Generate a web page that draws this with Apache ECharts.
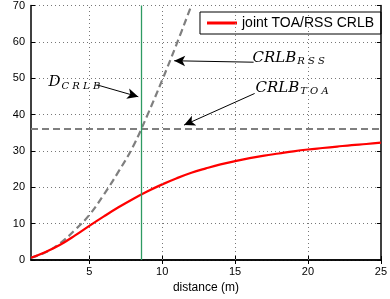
<!DOCTYPE html>
<html>
<head>
<meta charset="utf-8">
<script src="https://cdn.jsdelivr.net/npm/echarts@6/dist/echarts.min.js"></script>
<style>
html,body{margin:0;padding:0;background:#fff;}
#main{width:390px;height:299px;}
</style>
</head>
<body>
<div id="main"></div>
<script>
// data
var distance = [1, 2, 3, 4, 5, 6, 7, 8, 9, 10, 11, 12, 13, 14, 15, 16, 17, 18, 19, 20, 21, 22, 23, 24, 25];
var jointCrlb = [0.6, 2.2, 4.2, 6.7, 9.4, 12.0, 14.5, 16.8, 18.9, 20.8, 22.5, 24.0, 25.2, 26.3, 27.2, 28.0, 28.7, 29.3, 29.9, 30.4, 30.8, 31.2, 31.6, 31.9, 32.3];
var rssDistance = [1, 2, 3, 4, 5, 6, 7, 8, 9, 10, 11, 12];
var rssCrlb = [0.6, 2.1, 4.6, 8.2, 12.4, 18.0, 24.3, 31.2, 40.0, 49.5, 59.5, 70.0];
var toaCrlb = 36.2;
var dCrlb = 8.59;
var xTicks = [5, 10, 15, 20, 25];
var xGrid = [5, 10, 15, 20];

function pairs(xs, ys) {
	var out = [];
	for (var i = 0; i < xs.length; i++) out.push([xs[i], ys[i]]);
	return out;
}

var chart = echarts.init(document.getElementById('main'));
var font = 'Liberation Sans, Arial, sans-serif';
var gridStyle = {color: '#777', type: [1, 3], width: 1};

var option = {
	animation: false,
	textStyle: {fontFamily: font},
	grid: {left: 31, right: 7, top: 3, bottom: 37},
	legend: {
		data: ['joint TOA/RSS CRLB'],
		right: 9, top: 12,
		borderColor: '#000', borderWidth: 1,
		padding: [4, 7, 4, 7],
		itemWidth: 30, itemHeight: 3, itemGap: 5,
		icon: 'rect',
		textStyle: {fontSize: 14, color: '#000', fontFamily: font}
	},
	xAxis: [{
		type: 'value', min: 1, max: 25,
		name: 'distance (m)', nameLocation: 'middle', nameGap: 22,
		nameTextStyle: {fontSize: 12, color: '#000'},
		axisLine: {lineStyle: {color: '#000', width: 1.5}},
		axisTick: {inside: true, length: 4, customValues: xTicks, lineStyle: {color: '#000'}},
		axisLabel: {customValues: xTicks, fontSize: 11, color: '#000', margin: 6},
		splitLine: {show: false}
	}, {
		type: 'value', min: 1, max: 25, position: 'top',
		axisLine: {show: true, lineStyle: {color: '#000', width: 1.5}},
		axisTick: {inside: true, length: 4, customValues: xTicks, lineStyle: {color: '#000'}},
		axisLabel: {show: false},
		splitLine: {show: false}
	}],
	yAxis: [{
		type: 'value', min: 0, max: 70, interval: 10,
		axisLine: {show: true, lineStyle: {color: '#000', width: 1.5}},
		axisTick: {show: true, inside: true, length: 4, lineStyle: {color: '#000'}},
		axisLabel: {fontSize: 11, color: '#000', margin: 6},
		splitLine: {show: true, lineStyle: gridStyle}
	}, {
		type: 'value', min: 0, max: 70, interval: 10, position: 'right',
		axisLine: {show: true, lineStyle: {color: '#000', width: 1.5}},
		axisTick: {show: true, inside: true, length: 4, lineStyle: {color: '#000'}},
		axisLabel: {show: false},
		splitLine: {show: false}
	}],
	series: [
		{
			// vertical dotted grid at the x tick labels
			name: 'grid', type: 'line', data: [], silent: true,
			markLine: {
				silent: true, symbol: 'none', label: {show: false},
				lineStyle: gridStyle,
				data: xGrid.map(function (v) { return {xAxis: v}; })
			}
		},
		{
			name: 'CRLB_RSS', type: 'line', smooth: 0.4, symbol: 'none', clip: true,
			data: pairs(rssDistance, rssCrlb),
			lineStyle: {color: '#7f7f7f', width: 2.2, type: [7, 4]},
			markLine: {
				silent: true, symbol: 'none', label: {show: false},
				data: [
					{yAxis: toaCrlb, lineStyle: {color: '#7f7f7f', width: 2.2, type: [7, 4]}}
				]
			}
		},
		{
			name: 'D_CRLB', type: 'line', data: [], silent: true,
			markLine: {
				silent: true, symbol: 'none', label: {show: false},
				lineStyle: {color: '#2e9a62', width: 1.3, type: 'solid'},
				data: [{xAxis: dCrlb}]
			}
		},
		{
			name: 'joint TOA/RSS CRLB', type: 'line', smooth: 0.4, symbol: 'none',
			data: pairs(distance, jointCrlb),
			lineStyle: {color: '#ff0000', width: 2.2},
			itemStyle: {color: '#ff0000'},
			markLine: {
				silent: true, symbol: ['none', 'arrow'], symbolSize: [8, 11], label: {show: false},
				lineStyle: {color: '#000', width: 1, type: 'solid'},
				data: [
					[{coord: [5.5, 48.2]}, {coord: [8.36, 44.9]}],
					[{coord: [16.27, 54.4]}, {coord: [10.82, 54.8]}],
					[{coord: [16.34, 45.8]}, {coord: [11.5, 37.1]}]
				]
			}
		}
	]
};
chart.setOption(option);

// math style annotation labels
var mathRich = {
	m: {fontFamily: 'DejaVu Serif, serif', fontStyle: 'italic', fontSize: 15, color: '#000'},
	s: {fontFamily: 'DejaVu Serif, serif', fontStyle: 'italic', fontSize: 10, color: '#000', padding: [8, 0, 0, 1]}
};
var labels = [
	{at: [2.2, 48.8], text: '{m|D}{s|C R L B}'},
	{at: [16.2, 55.6], text: '{m|CRLB}{s|R S S}'},
	{at: [16.4, 47.4], text: '{m|CRLB}{s|T O A}'}
];
var g = labels.map(function (l) {
	var p = chart.convertToPixel({xAxisIndex: 0, yAxisIndex: 0}, l.at);
	return {
		type: 'text', x: p[0], y: p[1],
		style: {text: l.text, rich: mathRich, verticalAlign: 'middle', align: 'left'}
	};
});
chart.setOption({graphic: g});
</script>
</body>
</html>
